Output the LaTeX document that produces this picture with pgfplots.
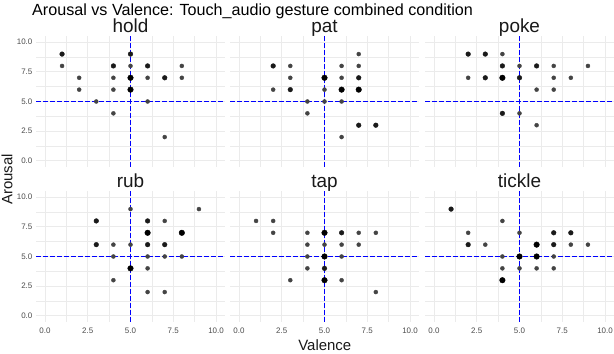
\documentclass[border=0pt]{standalone}
\usepackage{pgfplots}
\pgfplotsset{compat=1.18}
\usepackage{pgfplotstable}
\usepackage{fontspec}
\setmainfont{Liberation Sans}

\definecolor{gridgray}{HTML}{EBEBEB}
\definecolor{ticktxt}{HTML}{4D4D4D}
\definecolor{ptsmall}{HTML}{444444}
\definecolor{ptmed}{HTML}{1A1A1A}
\definecolor{refline}{HTML}{0000FF}

% valence, arousal, n = size class (1 = one response, 2 = two, 3 = three or more)
\pgfplotstableread{
x y n
1 9 2
1 8 1
2 7 1
2 6 1
3 5 1
4 8 2
4 7 1
4 6 1
4 4 1
5 9 2
5 8 1
5 7 3
5 6 3
6 8 2
6 7 1
6 5 1
7 7 2
7 2 1
8 8 1
8 7 1
}\holddata
\pgfplotstableread{
x y n
7 9 1
2 8 2
3 8 1
6 8 1
7 8 1
3 7 1
5 7 3
6 7 1
7 7 2
2 6 1
3 6 2
5 6 1
6 6 3
7 6 3
4 5 1
5 5 1
6 5 1
4 4 1
7 3 2
8 3 2
6 2 1
}\patdata
\pgfplotstableread{
x y n
2 9 2
3 9 2
4 9 1
4 8 2
5 8 1
6 8 2
7 8 1
9 8 1
2 7 1
3 7 2
4 7 3
5 7 2
7 7 1
8 7 1
6 6 1
7 6 1
4 4 2
5 4 1
6 3 1
}\pokedata
\pgfplotstableread{
x y n
5 9 1
9 9 1
3 8 2
6 8 2
7 8 1
6 7 3
8 7 3
3 6 2
4 6 1
5 6 1
6 6 2
7 6 2
4 5 1
6 5 1
7 5 1
8 5 1
5 4 3
6 4 1
4 3 1
6 2 1
7 2 1
}\rubdata
\pgfplotstableread{
x y n
1 8 1
2 8 1
2 7 1
4 7 1
5 7 3
6 7 2
7 7 1
8 7 1
4 6 1
5 6 1
6 6 1
7 6 1
4 5 1
5 5 3
6 5 1
4 4 1
5 4 2
3 3 1
5 3 3
6 3 1
8 2 1
}\tapdata
\pgfplotstableread{
x y n
1 9 2
4 8 1
2 7 1
5 7 1
7 7 2
8 7 2
2 6 2
3 6 1
6 6 3
7 6 2
8 6 1
9 6 1
4 5 1
5 5 3
6 5 3
7 5 1
4 4 1
5 4 1
6 4 1
7 4 1
4 3 3
}\tickledata

\pgfplotsset{
  facet/.style={
    width=188.2bp, height=130.4bp, scale only axis,
    xmin=-0.5, xmax=10.5, ymin=-0.5, ymax=10.5,
    xtick={0,2.5,5,7.5,10}, ytick={0,2.5,5,7.5,10},
    minor tick num=1,
    grid=both,
    major grid style={draw=gridgray, line width=0.8bp},
    minor grid style={draw=gridgray, line width=0.4bp},
    axis line style={draw=none},
    major tick style={draw=none}, minor tick style={draw=none},
    xticklabels={}, yticklabels={},
    tick label style={font=\fontsize{8}{9}\selectfont, text=ticktxt},
    xticklabel style={yshift=-2.5bp},
    yticklabel style={xshift=-0.5bp},
    title style={at={(0.5,1)}, anchor=base, yshift=-2.3bp,
      font=\fontsize{19}{20}\selectfont, text=black!90},
    clip=false,
  },
  leftcol/.style={yticklabels={0.0,2.5,5.0,7.5,10.0}},
  bottomrow/.style={xticklabels={0.0,2.5,5.0,7.5,10.0}},
}

% panels are placed so that the lines at 5 fall on whole pixels
\newcommand{\facetpoints}[1]{%
  \draw[refline, line width=1bp, dash pattern=on 4.2bp off 2.8bp]
    (axis cs:5,-0.5) -- (axis cs:5,10.5);
  \draw[refline, line width=1bp, dash pattern=on 4.2bp off 2.8bp]
    (axis cs:-0.5,5) -- (axis cs:10.5,5);
  \addplot[only marks, mark=*, mark size=2.0bp, color=ptsmall,
    restrict expr to domain={\thisrow{n}}{1:1}] table[x=x, y=y] {#1};
  \addplot[only marks, mark=*, mark size=2.35bp, color=ptmed,
    restrict expr to domain={\thisrow{n}}{2:2}] table[x=x, y=y] {#1};
  \addplot[only marks, mark=*, mark size=2.8bp, color=black,
    restrict expr to domain={\thisrow{n}}{3:3}] table[x=x, y=y] {#1};
}

\begin{document}
\begin{tikzpicture}
\fill[white] (0,0) rectangle (614bp,354bp);
\path[use as bounding box] (0,0) rectangle (614bp,354bp);

\begin{axis}[facet, leftcol, title={hold}, at={(36.4bp,187.3bp)}, anchor=south west]
\facetpoints{\holddata}
\end{axis}
\begin{axis}[facet, title={pat}, at={(230.4bp,187.3bp)}, anchor=south west]
\facetpoints{\patdata}
\end{axis}
\begin{axis}[facet, title={poke}, at={(425.4bp,187.3bp)}, anchor=south west]
\facetpoints{\pokedata}
\end{axis}

\begin{axis}[facet, leftcol, bottomrow, title={rub}, at={(36.4bp,32.3bp)}, anchor=south west]
\facetpoints{\rubdata}
\end{axis}
\begin{axis}[facet, bottomrow, title={tap}, at={(230.4bp,32.3bp)}, anchor=south west]
\facetpoints{\tapdata}
\end{axis}
\begin{axis}[facet, bottomrow, title={tickle}, at={(425.4bp,32.3bp)}, anchor=south west]
\facetpoints{\tickledata}
\end{axis}

\node[anchor=base west, font=\fontsize{16.2}{18}\selectfont, inner sep=0pt]
  at (32bp,338bp) {Arousal vs Valence: Touch\_audio gesture combined condition};
\node[rotate=90, font=\fontsize{15}{16}\selectfont, text=black!90, inner sep=0pt]
  at (7bp,174.5bp) {Arousal};
\node[font=\fontsize{15}{16}\selectfont, text=black!90, inner sep=0pt, anchor=base]
  at (324.8bp,4bp) {Valence};
\end{tikzpicture}
\end{document}
